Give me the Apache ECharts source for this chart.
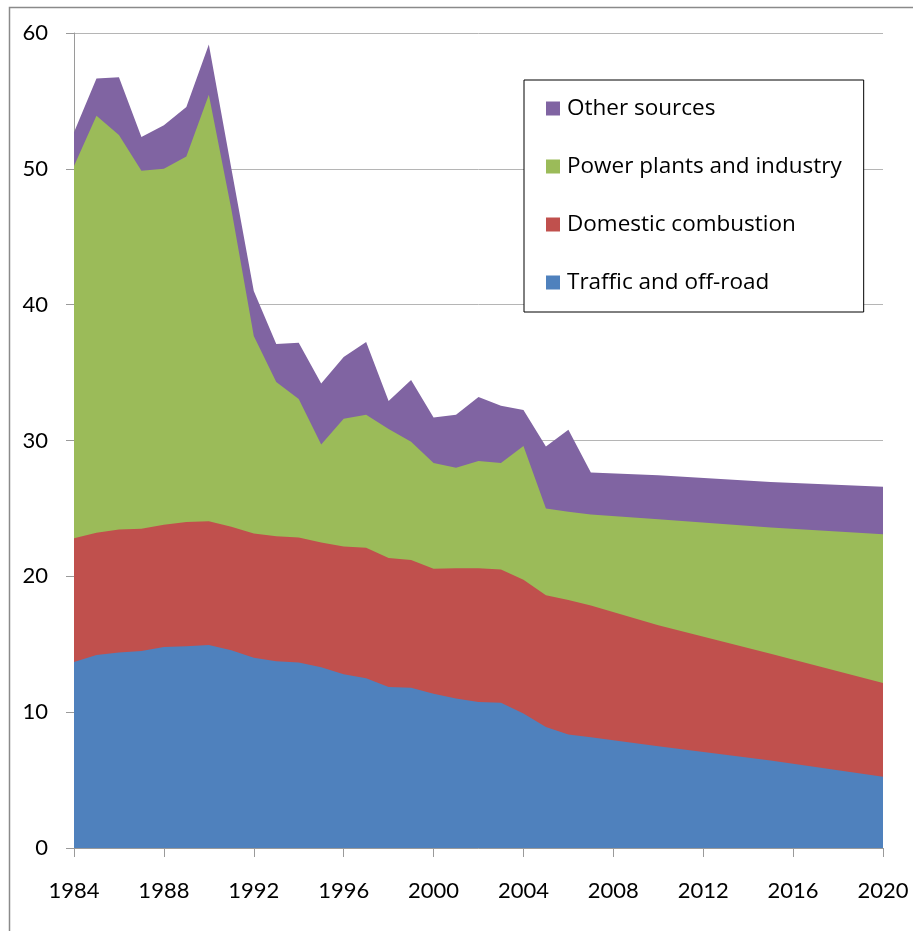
<!DOCTYPE html>
<html>
<head>
<meta charset="utf-8">
<title>Emissions by source</title>
<script src="https://cdn.jsdelivr.net/npm/echarts@6/dist/echarts.min.js"></script>
<style>
html,body{margin:0;padding:0;background:#fff;}
#chart{width:913px;height:931px;}
</style>
</head>
<body>
<div id="chart"></div>
<script>
// years with data points (yearly to 2007, then projection points)
const years=[1984,1985,1986,1987,1988,1989,1990,1991,1992,1993,1994,1995,1996,1997,1998,1999,2000,2001,2002,2003,2004,2005,2006,2007,2010,2015,2020]
const traffic=[13.7,14.2,14.4,14.5,14.8,14.85,14.95,14.55,14.0,13.75,13.65,13.3,12.8,12.5,11.85,11.8,11.35,11.0,10.75,10.7,9.9,8.9,8.35,8.15,7.5,6.45,5.25]
const domestic=[9.1,9.0,9.05,9.0,9.0,9.15,9.1,9.1,9.15,9.2,9.2,9.2,9.4,9.6,9.5,9.4,9.2,9.6,9.85,9.8,9.85,9.7,9.9,9.7,8.9,7.85,6.9]
const power=[27.4,30.7,29.05,26.35,26.2,26.9,31.4,23.4,14.55,11.35,10.2,7.2,9.4,9.8,9.5,8.7,7.8,7.4,7.9,7.85,9.85,6.4,6.5,6.7,7.8,9.3,10.95]
const other=[2.5,2.75,4.25,2.5,3.2,3.65,3.7,3.0,3.3,2.8,4.15,4.5,4.55,5.35,2.05,4.55,3.35,3.9,4.7,4.2,2.65,4.55,6.05,3.1,3.25,3.35,3.5]
const yTicks={min:0,max:60,interval:10}
const xTicks={min:1984,max:2020,interval:4}

const names=['Traffic and off-road','Domestic combustion','Power plants and industry','Other sources']
const colors=['#4F81BD','#C0504D','#9BBB59','#8064A2']
const values=[traffic,domestic,power,other]

const font='Lato, "Open Sans", sans-serif'
const chart=echarts.init(document.getElementById('chart'))

//value x axis stacks on the wrong dim, so add the layers up here
//and draw the tallest layer first, each one covering the one below
const running=years.map(()=>0)
const series=values.map((arr,i)=>{
    const top=arr.map((v,j)=>{
        running[j]+=v
        return [years[j],+running[j].toFixed(3)]
    })
    return {
        name:names[i],
        type:'line',
        z:10-i,
        symbol:'none',
        lineStyle:{width:0},
        areaStyle:{color:colors[i],opacity:1},
        itemStyle:{color:colors[i]},
        data:top
    }
}).reverse()

const option={
    animation:false,
    backgroundColor:'#fff',
    textStyle:{fontFamily:font},
    graphic:[
        {
            type:'rect',
            left:7,
            top:5,
            shape:{width:920,height:940},
            style:{fill:'none',stroke:'#8a8a8a',lineWidth:1.5},
            silent:true
        }
    ],
    grid:{
        left:74,
        right:30,
        top:33,
        bottom:83
    },
    legend:{
        data:['Other sources','Power plants and industry','Domestic combustion','Traffic and off-road'],
        orient:'vertical',
        left:524,
        top:80,
        padding:[17,22,18,22],
        itemGap:35,
        itemWidth:14,
        itemHeight:14,
        icon:'rect',
        backgroundColor:'#fff',
        borderColor:'#000',
        borderWidth:1,
        z:20,
        textStyle:{fontFamily:'"Open Sans", sans-serif',fontSize:22.5,color:'#000',padding:[0,0,0,2]}
    },
    xAxis:{
        type:'value',
        min:xTicks.min,
        max:xTicks.max,
        interval:xTicks.interval,
        axisLine:{show:true,lineStyle:{color:'#9a9a9a',width:1}},
        axisTick:{show:true,length:9,lineStyle:{color:'#9a9a9a'}},
        axisLabel:{
            margin:32,
            fontSize:22,
            color:'#000',
            fontFamily:font,
            formatter:v=>String(v)
        },
        splitLine:{show:false}
    },
    yAxis:{
        type:'value',
        min:yTicks.min,
        max:yTicks.max,
        interval:yTicks.interval,
        axisLine:{show:true,lineStyle:{color:'#9a9a9a',width:1}},
        axisTick:{show:true,length:8,lineStyle:{color:'#9a9a9a'}},
        axisLabel:{margin:26,fontSize:22,color:'#000',fontFamily:font},
        splitLine:{show:true,lineStyle:{color:'#b5b5b5',width:1}}
    },
    series:series
}
chart.setOption(option)
</script>
</body>
</html>
